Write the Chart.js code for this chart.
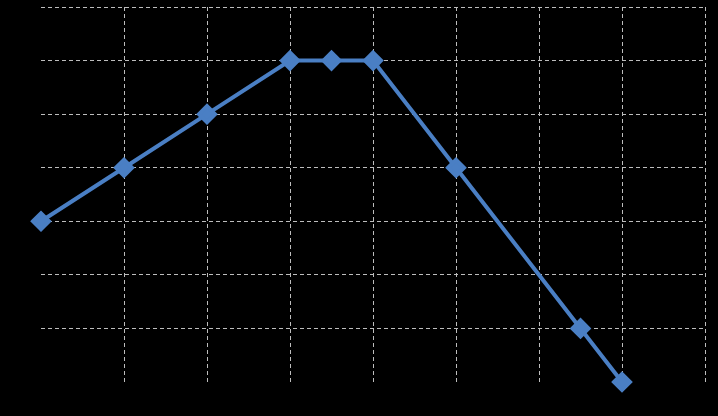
<!DOCTYPE html>
<html>
<head>
<meta charset="utf-8">
<script src="https://cdn.jsdelivr.net/npm/chart.js@4/dist/chart.umd.min.js"></script>
<style>
  html, body { margin: 0; padding: 0; background: #000; }
  canvas { display: block; }
</style>
</head>
<body>
<canvas id="chart" width="718" height="416"></canvas>
<script>
const xValues = [0, 1, 2, 3, 3.5, 4, 5, 6.5, 7];
const yValues = [3, 4, 5, 6, 6, 6, 4, 1, 0];
const xMax = 8;
const yMax = 7;

const points = xValues.map((x, i) => ({ x: x, y: yValues[i] }));

const gridColor = ctx => ctx.tick && ctx.tick.value === 0 ? 'rgba(0,0,0,0)' : '#bdbdbd';

new Chart(document.getElementById('chart').getContext('2d'), {
  type: 'scatter',
  data: {
    datasets: [{
      data: points,
      showLine: true,
      clip: false,
      borderColor: '#4a7fc4',
      backgroundColor: '#4a7fc4',
      borderWidth: 4,
      pointStyle: 'rectRot',
      pointRadius: 8,
      pointHoverRadius: 8,
      tension: 0
    }]
  },
  options: {
    responsive: false,
    animation: false,
    layout: { autoPadding: false, padding: { left: 41, top: 7, right: 13, bottom: 34 } },
    plugins: { legend: { display: false }, tooltip: { enabled: false } },
    scales: {
      x: {
        type: 'linear',
        min: 0, max: xMax,
        ticks: { display: false, stepSize: 1 },
        border: { display: false, dash: [4, 3] },
        grid: { color: gridColor, lineWidth: 1, drawTicks: false }
      },
      y: {
        min: 0, max: yMax,
        ticks: { display: false, stepSize: 1 },
        border: { display: false, dash: [4, 3] },
        grid: { color: gridColor, lineWidth: 1, drawTicks: false }
      }
    }
  }
});
</script>
</body>
</html>
